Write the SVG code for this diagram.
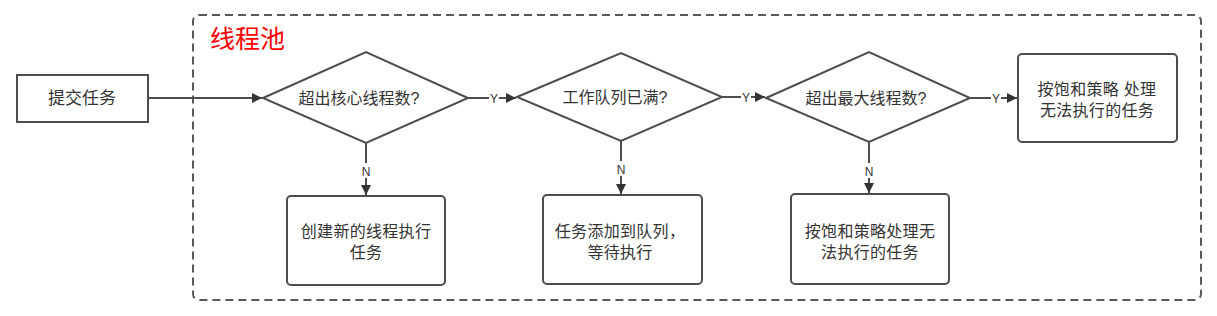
<svg xmlns="http://www.w3.org/2000/svg" width="1217" height="316" viewBox="0 0 1217 316">
<style>
.shape{fill:#fff;stroke:#4d4d4d;stroke-width:2}
.txt{font-family:"Liberation Sans","Noto Sans CJK SC",sans-serif;fill:#333;text-anchor:middle}
.bt{font-size:16px;letter-spacing:0.3px}
.lbl{font-family:"Liberation Sans","Noto Sans CJK SC",sans-serif;fill:#333;font-size:12px;text-anchor:middle}
.edge{stroke:#4d4d4d;stroke-width:2;fill:none}
.lblbg{fill:#fff}
</style>
<defs>
<marker id="arr" viewBox="0 0 10 10" refX="10" refY="5" markerWidth="6" markerHeight="5" markerUnits="strokeWidth" orient="auto">
<path d="M0,0 L10,5 L0,10 Z" fill="#333"/>
</marker>
</defs>
<g id="pool">
<rect x="193" y="15" width="1008" height="285" rx="6" fill="none" stroke="#595959" stroke-width="2" stroke-dasharray="8,5"/>
<text x="210" y="48" font-family="'Liberation Sans','Noto Sans CJK SC',sans-serif" font-size="25" fill="#ff0000">线程池</text>
</g>
<g id="submit">
<rect class="shape" x="17" y="75" width="131" height="47"/>
<text class="txt" x="82" y="104" font-size="17">提交任务</text>
</g>
<g id="d1">
<polygon class="shape" points="263,98 366,52 468,98 366,143"/>
<text class="txt" x="359" y="104" font-size="16">超出核心线程数?</text>
</g>
<g id="d2">
<polygon class="shape" points="517,97 621,53 722,97 621,141"/>
<text class="txt" x="615" y="103" font-size="16">工作队列已满?</text>
</g>
<g id="d3">
<polygon class="shape" points="766,98 869,52 970,98 869,142"/>
<text class="txt" x="866" y="104" font-size="16">超出最大线程数?</text>
</g>
<g id="reject1">
<rect class="shape" x="1018" y="54" width="159" height="88" rx="4"/>
<text class="txt bt" x="1097" y="95">按饱和策略 处理</text>
<text class="txt bt" x="1097" y="116">无法执行的任务</text>
</g>
<g id="create">
<rect class="shape" x="287" y="196" width="158" height="89" rx="4"/>
<text class="txt bt" x="366" y="237">创建新的线程执行</text>
<text class="txt bt" x="366" y="258">任务</text>
</g>
<g id="queue">
<rect class="shape" x="543" y="195" width="159" height="89" rx="4"/>
<text class="txt bt" x="620" y="237">任务添加到队列，</text>
<text class="txt bt" x="620" y="258">等待执行</text>
</g>
<g id="reject2">
<rect class="shape" x="791" y="194" width="158" height="90" rx="4"/>
<text class="txt bt" x="870" y="237">按饱和策略处理无</text>
<text class="txt bt" x="870" y="258">法执行的任务</text>
</g>
<g id="connectors">
<line class="edge" x1="148" y1="98" x2="262" y2="98" marker-end="url(#arr)"/>
<line class="edge" x1="468" y1="98" x2="516" y2="98" marker-end="url(#arr)"/>
<rect class="lblbg" x="489" y="91" width="10" height="14"/>
<text class="lbl" x="494" y="103">Y</text>
<line class="edge" x1="722" y1="97" x2="765" y2="97" marker-end="url(#arr)"/>
<rect class="lblbg" x="741" y="90" width="10" height="14"/>
<text class="lbl" x="746" y="102">Y</text>
<line class="edge" x1="970" y1="98" x2="1017" y2="98" marker-end="url(#arr)"/>
<rect class="lblbg" x="991" y="91" width="10" height="14"/>
<text class="lbl" x="996" y="103">Y</text>
<line class="edge" x1="366" y1="143" x2="366" y2="195" marker-end="url(#arr)"/>
<rect class="lblbg" x="361" y="163" width="11" height="15"/>
<text class="lbl" x="366" y="176">N</text>
<line class="edge" x1="621" y1="141" x2="621" y2="194" marker-end="url(#arr)"/>
<rect class="lblbg" x="616" y="161" width="11" height="15"/>
<text class="lbl" x="621" y="174">N</text>
<line class="edge" x1="869" y1="142" x2="869" y2="193" marker-end="url(#arr)"/>
<rect class="lblbg" x="864" y="163" width="11" height="15"/>
<text class="lbl" x="869" y="176">N</text>
</g>
</svg>
